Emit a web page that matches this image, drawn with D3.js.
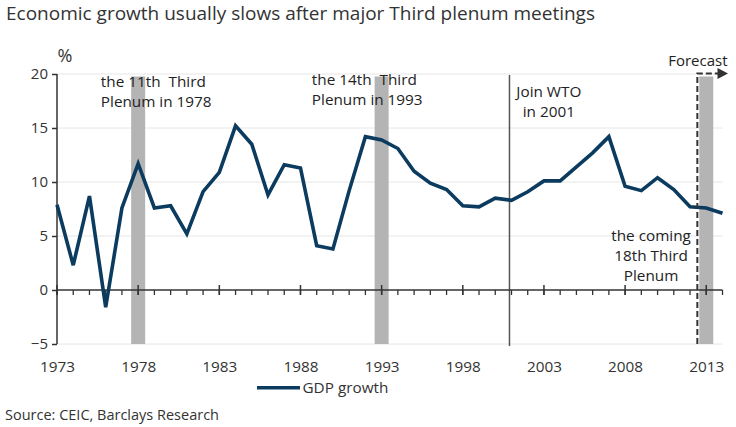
<!DOCTYPE html>
<html>
<head>
<meta charset="utf-8">
<script src="https://cdn.jsdelivr.net/npm/d3@7/dist/d3.min.js"></script>
<style>
  html, body { margin: 0; padding: 0; background: #fff; }
  svg { display: block; font-family: "Open Sans", "Noto Sans", sans-serif; }
  text { white-space: pre; }
</style>
</head>
<body>
<svg id="chart" width="736" height="427"></svg>
<script>
// ---- data ----
const years = [1973,1974,1975,1976,1977,1978,1979,1980,1981,1982,1983,1984,1985,1986,1987,1988,1989,1990,1991,1992,1993,1994,1995,1996,1997,1998,1999,2000,2001,2002,2003,2004,2005,2006,2007,2008,2009,2010,2011,2012,2013,2014];
const gdpGrowth = [7.9,2.3,8.7,-1.6,7.6,11.7,7.6,7.8,5.2,9.1,10.9,15.2,13.5,8.8,11.6,11.3,4.1,3.8,9.2,14.2,13.9,13.1,11.0,9.9,9.3,7.8,7.7,8.5,8.3,9.1,10.1,10.1,11.4,12.7,14.2,9.6,9.2,10.4,9.3,7.7,7.6,7.1];
const plenumYears = [1978, 1993, 2013];
const wtoYear = 2001;
const forecastStart = 2012.45;
const yTicks = [-5, 0, 5, 10, 15, 20];
const xLabelYears = [1973,1978,1983,1988,1993,1998,2003,2008,2013];
const annotations = [
  {lines: ["the 11th  Third", "Plenum in 1978"], year: 1975.7, value: 18.8, anchor: "start"},
  {lines: ["the 14th  Third", "Plenum in 1993"], year: 1988.7, value: 18.95, anchor: "start"},
  {lines: ["Join WTO", "in 2001"], year: 2003.3, value: 17.9, anchor: "middle"},
  {lines: ["the coming", "18th Third", "Plenum"], year: 2009.6, value: 4.5, anchor: "middle"}
];
const titleText = "Economic growth usually slows after major Third plenum meetings";
const unitText = "%";
const legendText = "GDP growth";
const sourceText = "Source: CEIC, Barclays Research";
const forecastText = "Forecast";

// ---- layout ----
const svg = d3.select("#chart");
const x = d3.scaleLinear().domain([1973, 2014]).range([57, 722.5]);
const y = d3.scaleLinear().domain([-5, 20]).range([344, 74]);
const textColor = "#333";
const lineColor = "#0b3b5e";

// title
svg.append("text").attr("x", 6).attr("y", 20)
  .attr("font-size", 19).attr("fill", textColor).text(titleText);

// gridlines
svg.append("g").selectAll("line").data(yTicks.filter(d => d !== 0)).join("line")
  .attr("x1", x(1973)).attr("x2", x(2014))
  .attr("y1", d => y(d)).attr("y2", d => y(d))
  .attr("stroke", "#e6e6e6").attr("stroke-width", 1);

// plenum bars
svg.append("g").selectAll("rect").data(plenumYears).join("rect")
  .attr("x", d => x(d) - 7).attr("width", 14)
  .attr("y", y(20) + 2.5).attr("height", y(-5) - y(20) - 2.5)
  .attr("fill", "#b4b4b4");

// WTO line
svg.append("line").attr("x1", x(wtoYear) - 2).attr("x2", x(wtoYear) - 2)
  .attr("y1", y(20) + 1).attr("y2", y(-5) + 2)
  .attr("stroke", "#555").attr("stroke-width", 1.5);

// y axis
const yAxis = d3.axisLeft(y).tickValues(yTicks).tickSize(5).tickPadding(4);
const gy = svg.append("g").attr("transform", `translate(${x(1973)},0)`).call(yAxis);
gy.select(".domain").attr("stroke", "#333").attr("stroke-width", 1.5).attr("d", `M0,${y(20)}V${y(-5)}`);
gy.selectAll(".tick line").attr("stroke", "#333").attr("stroke-width", 1.5);
gy.selectAll(".tick text").attr("font-size", 15).attr("fill", textColor)
  .attr("font-family", "Open Sans, Noto Sans, sans-serif");

// unit label
svg.append("text").attr("x", 65).attr("y", 61.5).attr("text-anchor", "middle")
  .attr("font-size", 18).attr("fill", textColor).text(unitText);

// x axis at zero: minor ticks
const gx = svg.append("g").attr("transform", `translate(0,${y(0)})`);
gx.append("line").attr("x1", x(1973)).attr("x2", x(2014))
  .attr("stroke", "#333").attr("stroke-width", 1.5);
gx.selectAll("line.minor").data(years).join("line").attr("class", "minor")
  .attr("x1", d => x(d)).attr("x2", d => x(d)).attr("y1", 0).attr("y2", 5)
  .attr("stroke", "#333").attr("stroke-width", 1.3);
gx.selectAll("line.major").data(xLabelYears).join("line").attr("class", "major")
  .attr("x1", d => x(d)).attr("x2", d => x(d)).attr("y1", -5).attr("y2", 5)
  .attr("stroke", "#333").attr("stroke-width", 1.5);

// x labels (bottom)
const xAxis = d3.axisBottom(x).tickValues(xLabelYears).tickFormat(d3.format("d")).tickSize(0).tickPadding(0);
const gxb = svg.append("g").attr("transform", `translate(0,${y(-5)})`).call(xAxis);
gxb.select(".domain").remove();
gxb.selectAll(".tick text").attr("font-size", 15.3).attr("fill", textColor)
  .attr("font-family", "Open Sans, Noto Sans, sans-serif")
  .attr("dy", null).attr("y", 28);

// GDP line
const line = d3.line().x((d, i) => x(years[i])).y(d => y(d));
svg.append("path").datum(gdpGrowth).attr("d", line)
  .attr("fill", "none").attr("stroke", lineColor).attr("stroke-width", 3.6)
  .attr("stroke-linejoin", "miter");

// forecast dashed marker
svg.append("path")
  .attr("d", `M${x(forecastStart)},${y(-5)}V${y(20) - 0.5}H${x(2014) - 4}`)
  .attr("fill", "none").attr("stroke", "#333").attr("stroke-width", 2)
  .attr("stroke-dasharray", "6,3");
svg.append("path")
  .attr("d", `M${x(2014) - 5},${y(20) - 6}L${x(2014) + 5.5},${y(20) - 0.5}L${x(2014) - 5},${y(20) + 5}Z`)
  .attr("fill", "#333");
svg.append("text").attr("x", 727.5).attr("y", 66).attr("text-anchor", "end")
  .attr("font-size", 15).attr("fill", "#222").text(forecastText);

// annotations
annotations.forEach(a => {
  const t = svg.append("text").attr("font-size", 15.3).attr("fill", "#222")
    .attr("text-anchor", a.anchor).attr("xml:space", "preserve");
  a.lines.forEach((l, i) => {
    t.append("tspan").attr("x", x(a.year)).attr("y", y(a.value) + i * 20).text(l);
  });
});

// legend
svg.append("line").attr("x1", 257).attr("x2", 300).attr("y1", 387.7).attr("y2", 387.7)
  .attr("stroke", lineColor).attr("stroke-width", 3.5);
svg.append("text").attr("x", 302.5).attr("y", 393.3).attr("font-size", 15.3)
  .attr("fill", textColor).text(legendText);

// source
svg.append("text").attr("x", 5).attr("y", 420).attr("font-size", 14.5)
  .attr("fill", textColor).text(sourceText);
</script>
</body>
</html>
